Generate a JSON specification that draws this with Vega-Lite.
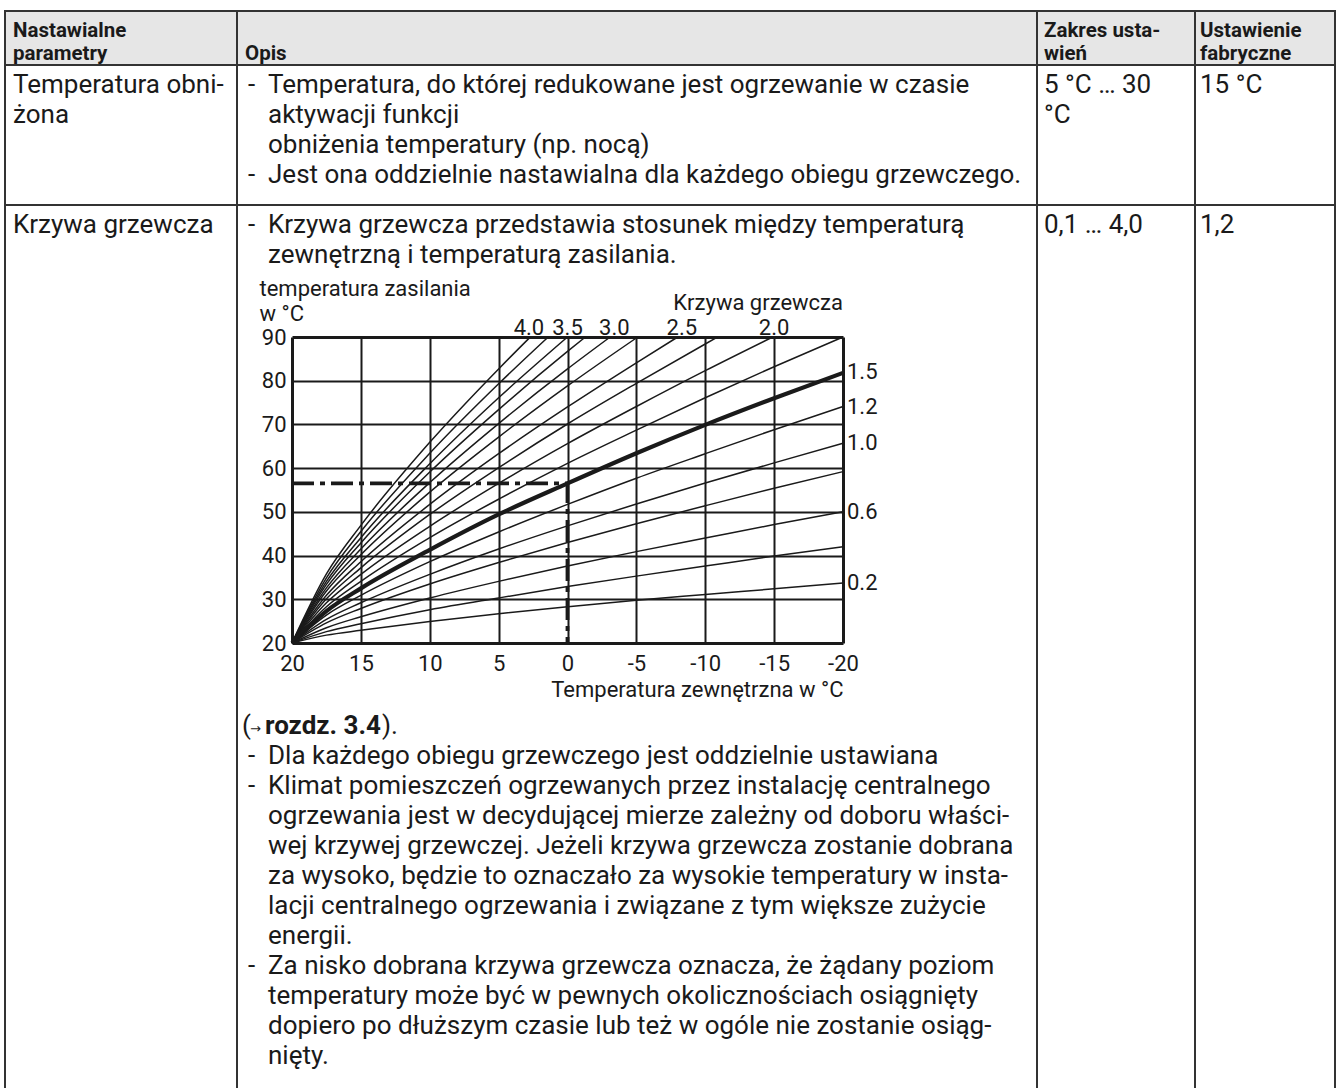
{
"$schema": "https://vega.github.io/schema/vega-lite/v6.json",
"background": "white",
"padding": {"left": 4, "top": 10, "right": 0, "bottom": 0},
"config": {
  "view": {"stroke": "#333333", "strokeWidth": 2},
  "text": {"font": "Roboto", "fontSize": 26, "color": "#1a1a1a", "align": "left", "baseline": "alphabetic"},
  "axis": {"labelFont": "Roboto", "titleFont": "Roboto"}
},
"columns": 4,
"spacing": 0,
"align": "each",
"bounds": "flush",
"concat": [
  {"width": 232, "height": 54, "view": {"stroke": "#333333", "strokeWidth": 2, "fill": "#e6e6e6"},
   "data": {"values": [{"line": 0, "level": 0, "text": "Nastawialne"}, {"line": 1, "level": 0, "text": "parametry"}]},
   "mark": {"type": "text", "fontSize": 20.5, "fontWeight": "bold"},
   "encoding": {
     "x": {"field": "level", "type": "quantitative", "scale": {"domain": [0, 1], "range": [8, 28], "zero": false, "nice": false}, "axis": null},
     "y": {"field": "line", "type": "quantitative", "scale": {"domain": [0, 1], "range": [26, 49], "zero": false, "nice": false}, "axis": null},
     "text": {"field": "text"}}},
  {"width": 800, "height": 54, "view": {"stroke": "#333333", "strokeWidth": 2, "fill": "#e6e6e6"},
   "data": {"values": [{"line": 1, "level": 0, "text": "Opis"}]},
   "mark": {"type": "text", "fontSize": 20.5, "fontWeight": "bold"},
   "encoding": {
     "x": {"field": "level", "type": "quantitative", "scale": {"domain": [0, 1], "range": [8, 28], "zero": false, "nice": false}, "axis": null},
     "y": {"field": "line", "type": "quantitative", "scale": {"domain": [0, 1], "range": [26, 49], "zero": false, "nice": false}, "axis": null},
     "text": {"field": "text"}}},
  {"width": 158, "height": 54, "view": {"stroke": "#333333", "strokeWidth": 2, "fill": "#e6e6e6"},
   "data": {"values": [{"line": 0, "level": 0, "text": "Zakres usta-"}, {"line": 1, "level": 0, "text": "wień"}]},
   "mark": {"type": "text", "fontSize": 20.5, "fontWeight": "bold"},
   "encoding": {
     "x": {"field": "level", "type": "quantitative", "scale": {"domain": [0, 1], "range": [7, 27], "zero": false, "nice": false}, "axis": null},
     "y": {"field": "line", "type": "quantitative", "scale": {"domain": [0, 1], "range": [26, 49], "zero": false, "nice": false}, "axis": null},
     "text": {"field": "text"}}},
  {"width": 140, "height": 54, "view": {"stroke": "#333333", "strokeWidth": 2, "fill": "#e6e6e6"},
   "data": {"values": [{"line": 0, "level": 0, "text": "Ustawienie"}, {"line": 1, "level": 0, "text": "fabryczne"}]},
   "mark": {"type": "text", "fontSize": 20.5, "fontWeight": "bold"},
   "encoding": {
     "x": {"field": "level", "type": "quantitative", "scale": {"domain": [0, 1], "range": [5, 25], "zero": false, "nice": false}, "axis": null},
     "y": {"field": "line", "type": "quantitative", "scale": {"domain": [0, 1], "range": [26, 49], "zero": false, "nice": false}, "axis": null},
     "text": {"field": "text"}}},

  {"width": 232, "height": 140,
   "data": {"values": [{"line": 0, "level": 0, "text": "Temperatura obni-"}, {"line": 1, "level": 0, "text": "żona"}]},
   "mark": {"type": "text"},
   "encoding": {
     "x": {"field": "level", "type": "quantitative", "scale": {"domain": [0, 1], "range": [8, 28], "zero": false, "nice": false}, "axis": null},
     "y": {"field": "line", "type": "quantitative", "scale": {"domain": [0, 1], "range": [28, 58], "zero": false, "nice": false}, "axis": null},
     "text": {"field": "text"}}},
  {"width": 800, "height": 140,
   "data": {"values": [
     {"line": 0, "level": 0, "text": "-"},
     {"line": 0, "level": 1, "text": "Temperatura, do której redukowane jest ogrzewanie w czasie"},
     {"line": 1, "level": 1, "text": "aktywacji funkcji"},
     {"line": 2, "level": 1, "text": "obniżenia temperatury (np. nocą)"},
     {"line": 3, "level": 0, "text": "-"},
     {"line": 3, "level": 1, "text": "Jest ona oddzielnie nastawialna dla każdego obiegu grzewczego."}]},
   "mark": {"type": "text"},
   "encoding": {
     "x": {"field": "level", "type": "quantitative", "scale": {"domain": [0, 1], "range": [11, 31], "zero": false, "nice": false}, "axis": null},
     "y": {"field": "line", "type": "quantitative", "scale": {"domain": [0, 1], "range": [28, 58], "zero": false, "nice": false}, "axis": null},
     "text": {"field": "text"}}},
  {"width": 158, "height": 140,
   "data": {"values": [{"line": 0, "level": 0, "text": "5 °C … 30"}, {"line": 1, "level": 0, "text": "°C"}]},
   "mark": {"type": "text"},
   "encoding": {
     "x": {"field": "level", "type": "quantitative", "scale": {"domain": [0, 1], "range": [7, 27], "zero": false, "nice": false}, "axis": null},
     "y": {"field": "line", "type": "quantitative", "scale": {"domain": [0, 1], "range": [28, 58], "zero": false, "nice": false}, "axis": null},
     "text": {"field": "text"}}},
  {"width": 140, "height": 140,
   "data": {"values": [{"line": 0, "level": 0, "text": "15 °C"}]},
   "mark": {"type": "text"},
   "encoding": {
     "x": {"field": "level", "type": "quantitative", "scale": {"domain": [0, 1], "range": [5, 25], "zero": false, "nice": false}, "axis": null},
     "y": {"field": "line", "type": "quantitative", "scale": {"domain": [0, 1], "range": [28, 58], "zero": false, "nice": false}, "axis": null},
     "text": {"field": "text"}}},

  {"width": 232, "height": 132, "view": {"stroke": null},
   "resolve": {"scale": {"x": "independent"}},
   "layer": [
     {"data": {"values": [{"e": 0}, {"e": 1}]}, "mark": {"type": "rule", "color": "#333333", "strokeWidth": 2},
      "encoding": {"x": {"field": "e", "type": "quantitative", "scale": {"domain": [0, 1], "zero": false, "nice": false}, "axis": null}}},
     {"data": {"values": [{"line": 0, "level": 0, "text": "Krzywa grzewcza"}]}, "mark": {"type": "text"},
      "encoding": {
        "x": {"field": "level", "type": "quantitative", "scale": {"domain": [0, 1], "range": [8, 28], "zero": false, "nice": false}, "axis": null},
        "y": {"field": "line", "type": "quantitative", "scale": {"domain": [0, 1], "range": [28, 58], "zero": false, "nice": false}, "axis": null},
        "text": {"field": "text"}}}]},
  {"width": 800, "height": 132, "view": {"stroke": null},
   "data": {"values": [
     {"line": 0, "level": 0, "text": "-"},
     {"line": 0, "level": 1, "text": "Krzywa grzewcza przedstawia stosunek między temperaturą"},
     {"line": 1, "level": 1, "text": "zewnętrzną i temperaturą zasilania."}]},
   "mark": {"type": "text"},
   "encoding": {
     "x": {"field": "level", "type": "quantitative", "scale": {"domain": [0, 1], "range": [11, 31], "zero": false, "nice": false}, "axis": null},
     "y": {"field": "line", "type": "quantitative", "scale": {"domain": [0, 1], "range": [28, 58], "zero": false, "nice": false}, "axis": null},
     "text": {"field": "text"}}},
  {"width": 158, "height": 132, "view": {"stroke": null},
   "resolve": {"scale": {"x": "independent"}},
   "layer": [
     {"data": {"values": [{"e": 0}, {"e": 1}]}, "mark": {"type": "rule", "color": "#333333", "strokeWidth": 2},
      "encoding": {"x": {"field": "e", "type": "quantitative", "scale": {"domain": [0, 1], "zero": false, "nice": false}, "axis": null}}},
     {"data": {"values": [{"line": 0, "level": 0, "text": "0,1 … 4,0"}]}, "mark": {"type": "text"},
      "encoding": {
        "x": {"field": "level", "type": "quantitative", "scale": {"domain": [0, 1], "range": [7, 27], "zero": false, "nice": false}, "axis": null},
        "y": {"field": "line", "type": "quantitative", "scale": {"domain": [0, 1], "range": [28, 58], "zero": false, "nice": false}, "axis": null},
        "text": {"field": "text"}}}]},
  {"width": 140, "height": 132, "view": {"stroke": null},
   "resolve": {"scale": {"x": "independent"}},
   "layer": [
     {"data": {"values": [{"e": 0}, {"e": 1}]}, "mark": {"type": "rule", "color": "#333333", "strokeWidth": 2},
      "encoding": {"x": {"field": "e", "type": "quantitative", "scale": {"domain": [0, 1], "zero": false, "nice": false}, "axis": null}}},
     {"data": {"values": [{"line": 0, "level": 0, "text": "1,2"}]}, "mark": {"type": "text"},
      "encoding": {
        "x": {"field": "level", "type": "quantitative", "scale": {"domain": [0, 1], "range": [5, 25], "zero": false, "nice": false}, "axis": null},
        "y": {"field": "line", "type": "quantitative", "scale": {"domain": [0, 1], "range": [28, 58], "zero": false, "nice": false}, "axis": null},
        "text": {"field": "text"}}}]},

  {"width": 232, "height": 306, "view": {"stroke": null},
   "data": {"values": [{"e": 0}, {"e": 1}]}, "mark": {"type": "rule", "color": "#333333", "strokeWidth": 2},
   "encoding": {"x": {"field": "e", "type": "quantitative", "scale": {"domain": [0, 1], "zero": false, "nice": false}, "axis": null}}},
  {"width": 800, "height": 306, "view": {"stroke": null},
   "encoding": {
     "x": {"field": "t", "type": "quantitative", "scale": {"domain": [20, -20], "range": [55, 606], "nice": false, "zero": false},
       "axis": {"values": [20, 15, 10, 5, 0, -5, -10, -15, -20], "labelExpr": "datum.value + ''",
         "grid": true, "gridColor": "#1a1a1a", "gridOpacity": 1,
         "gridWidth": {"condition": {"test": "datum.value === 20 || datum.value === -20", "value": 3}, "value": 2},
         "domain": false, "ticks": false,
         "labelFlush": false, "labelOverlap": false, "labelFontSize": 22, "labelColor": "#1a1a1a", "labelPadding": 10,
         "title": "Temperatura zewnętrzna w °C", "titleAnchor": "end", "titleFontSize": 22, "titleFontWeight": "normal", "titleColor": "#1a1a1a", "titlePadding": 5}},
     "y": {"field": "v", "type": "quantitative", "scale": {"domain": [20, 90], "nice": false, "zero": false},
       "axis": {"values": [20, 30, 40, 50, 60, 70, 80, 90],
         "grid": true, "gridColor": "#1a1a1a", "gridOpacity": 1,
         "gridWidth": {"condition": {"test": "datum.value === 20 || datum.value === 90", "value": 3}, "value": 2},
         "domain": false, "ticks": false, "offset": -55,
         "labelFlush": false, "labelOverlap": false, "labelFontSize": 22, "labelColor": "#1a1a1a", "labelPadding": 6,
         "title": ["temperatura zasilania", "w °C"], "titleAngle": 0, "titleAlign": "left", "titleBaseline": "alphabetic",
         "titleX": -33, "titleY": -42, "titleFontSize": 22, "titleFontWeight": "normal", "titleColor": "#1a1a1a", "titleLineHeight": 25}}
   },
   "layer": [
     {"data": {"values": [
       {"c":"4.0","t":20,"v":20},{"c":"4.0","t":17.5,"v":35.8},{"c":"4.0","t":15,"v":46.9},{"c":"4.0","t":10,"v":65.9},{"c":"4.0","t":5,"v":82.7},{"c":"4.0","t":2.7,"v":90},
       {"c":"3.75","t":20,"v":20},{"c":"3.75","t":17.5,"v":34.9},{"c":"3.75","t":15,"v":45.5},{"c":"3.75","t":10,"v":63.4},{"c":"3.75","t":5,"v":79.3},{"c":"3.75","t":1.4,"v":90},
       {"c":"3.5","t":20,"v":20},{"c":"3.5","t":17.5,"v":34.1},{"c":"3.5","t":15,"v":44.1},{"c":"3.5","t":10,"v":61.0},{"c":"3.5","t":5,"v":76.1},{"c":"3.5","t":0,"v":90},
       {"c":"3.25","t":20,"v":20},{"c":"3.25","t":17.5,"v":33.4},{"c":"3.25","t":15,"v":42.9},{"c":"3.25","t":10,"v":59.1},{"c":"3.25","t":5,"v":73.4},{"c":"3.25","t":0,"v":86.7},{"c":"3.25","t":-1.3,"v":90},
       {"c":"3.0","t":20,"v":20},{"c":"3.0","t":17.5,"v":32.6},{"c":"3.0","t":15,"v":41.5},{"c":"3.0","t":10,"v":56.7},{"c":"3.0","t":5,"v":70.2},{"c":"3.0","t":0,"v":82.7},{"c":"3.0","t":-3.1,"v":90},
       {"c":"2.75","t":20,"v":20},{"c":"2.75","t":17.5,"v":31.9},{"c":"2.75","t":15,"v":40.2},{"c":"2.75","t":10,"v":54.5},{"c":"2.75","t":5,"v":67.1},{"c":"2.75","t":0,"v":78.8},{"c":"2.75","t":-5.1,"v":90},
       {"c":"2.5","t":20,"v":20},{"c":"2.5","t":17.5,"v":30.9},{"c":"2.5","t":15,"v":38.6},{"c":"2.5","t":10,"v":51.7},{"c":"2.5","t":5,"v":63.3},{"c":"2.5","t":0,"v":74.0},{"c":"2.5","t":-5,"v":84.1},{"c":"2.5","t":-8.0,"v":90},
       {"c":"2.25","t":20,"v":20},{"c":"2.25","t":17.5,"v":30.1},{"c":"2.25","t":15,"v":37.2},{"c":"2.25","t":10,"v":49.4},{"c":"2.25","t":5,"v":60.1},{"c":"2.25","t":0,"v":70.1},{"c":"2.25","t":-5,"v":79.4},{"c":"2.25","t":-10,"v":88.4},{"c":"2.25","t":-10.9,"v":90},
       {"c":"2.0","t":20,"v":20},{"c":"2.0","t":17.5,"v":29.2},{"c":"2.0","t":15,"v":35.7},{"c":"2.0","t":10,"v":46.7},{"c":"2.0","t":5,"v":56.5},{"c":"2.0","t":0,"v":65.6},{"c":"2.0","t":-5,"v":74.1},{"c":"2.0","t":-10,"v":82.3},{"c":"2.0","t":-14.9,"v":90},
       {"c":"1.75","t":20,"v":20},{"c":"1.75","t":17.5,"v":28.3},{"c":"1.75","t":15,"v":34.1},{"c":"1.75","t":10,"v":44.1},{"c":"1.75","t":5,"v":52.9},{"c":"1.75","t":0,"v":61.1},{"c":"1.75","t":-5,"v":68.7},{"c":"1.75","t":-10,"v":76.1},{"c":"1.75","t":-15,"v":83.2},{"c":"1.75","t":-20,"v":90},
       {"c":"1.5","t":20,"v":20},{"c":"1.5","t":17.5,"v":27.3},{"c":"1.5","t":15,"v":32.5},{"c":"1.5","t":10,"v":41.3},{"c":"1.5","t":5,"v":49.4},{"c":"1.5","t":0,"v":56.5},{"c":"1.5","t":-5,"v":63.4},{"c":"1.5","t":-10,"v":69.9},{"c":"1.5","t":-15,"v":76.0},{"c":"1.5","t":-20,"v":81.8},
       {"c":"1.2","t":20,"v":20},{"c":"1.2","t":17.5,"v":26.4},{"c":"1.2","t":15,"v":30.9},{"c":"1.2","t":10,"v":38.6},{"c":"1.2","t":5,"v":45.4},{"c":"1.2","t":0,"v":51.7},{"c":"1.2","t":-5,"v":57.7},{"c":"1.2","t":-10,"v":63.3},{"c":"1.2","t":-15,"v":68.8},{"c":"1.2","t":-20,"v":74.1},
       {"c":"1.0","t":20,"v":20},{"c":"1.0","t":17.5,"v":25.4},{"c":"1.0","t":15,"v":29.2},{"c":"1.0","t":10,"v":35.7},{"c":"1.0","t":5,"v":41.5},{"c":"1.0","t":0,"v":46.8},{"c":"1.0","t":-5,"v":51.8},{"c":"1.0","t":-10,"v":56.6},{"c":"1.0","t":-15,"v":61.2},{"c":"1.0","t":-20,"v":65.7},
       {"c":"0.8","t":20,"v":20},{"c":"0.8","t":17.5,"v":24.6},{"c":"0.8","t":15,"v":27.9},{"c":"0.8","t":10,"v":33.5},{"c":"0.8","t":5,"v":38.4},{"c":"0.8","t":0,"v":43.0},{"c":"0.8","t":-5,"v":47.3},{"c":"0.8","t":-10,"v":51.4},{"c":"0.8","t":-15,"v":55.4},{"c":"0.8","t":-20,"v":59.2},
       {"c":"0.6","t":20,"v":20},{"c":"0.6","t":17.5,"v":23.5},{"c":"0.6","t":15,"v":26.0},{"c":"0.6","t":10,"v":30.3},{"c":"0.6","t":5,"v":34.1},{"c":"0.6","t":0,"v":37.6},{"c":"0.6","t":-5,"v":40.9},{"c":"0.6","t":-10,"v":44.0},{"c":"0.6","t":-15,"v":47.1},{"c":"0.6","t":-20,"v":50.0},
       {"c":"0.4","t":20,"v":20},{"c":"0.4","t":17.5,"v":22.6},{"c":"0.4","t":15,"v":24.4},{"c":"0.4","t":10,"v":27.6},{"c":"0.4","t":5,"v":30.3},{"c":"0.4","t":0,"v":32.9},{"c":"0.4","t":-5,"v":35.3},{"c":"0.4","t":-10,"v":37.6},{"c":"0.4","t":-15,"v":39.9},{"c":"0.4","t":-20,"v":42.0},
       {"c":"0.2","t":20,"v":20},{"c":"0.2","t":17.5,"v":21.8},{"c":"0.2","t":15,"v":22.9},{"c":"0.2","t":10,"v":24.9},{"c":"0.2","t":5,"v":26.7},{"c":"0.2","t":0,"v":28.3},{"c":"0.2","t":-5,"v":29.8},{"c":"0.2","t":-10,"v":31.1},{"c":"0.2","t":-15,"v":32.4},{"c":"0.2","t":-20,"v":33.7}
     ]},
      "mark": {"type": "line", "interpolate": "monotone", "color": "#1a1a1a"},
      "encoding": {
        "detail": {"field": "c"},
        "order": {"field": "t", "type": "quantitative", "sort": "descending"},
        "strokeWidth": {"condition": {"test": "datum.c === '1.5'", "value": 4.2}, "value": 1.5}}},
     {"data": {"values": [{"t": 20, "v": 56.5, "o": 0}, {"t": 0, "v": 56.5, "o": 1}, {"t": 0, "v": 20, "o": 2}]},
      "mark": {"type": "line", "color": "#1a1a1a", "strokeWidth": 3.8, "strokeDash": [22, 6, 5, 6]},
      "encoding": {"order": {"field": "o", "type": "quantitative"}}},
     {"data": {"values": [{"lab": "4.0", "t": 2.8, "v": 90}, {"lab": "3.5", "t": 0, "v": 90}, {"lab": "3.0", "t": -3.4, "v": 90}, {"lab": "2.5", "t": -8.3, "v": 90}, {"lab": "2.0", "t": -15, "v": 90}]},
      "mark": {"type": "text", "align": "center", "baseline": "alphabetic", "dy": -2, "fontSize": 22},
      "encoding": {"text": {"field": "lab"}}},
     {"data": {"values": [{"lab": "1.5", "t": -20, "v": 82}, {"lab": "1.2", "t": -20, "v": 74.1}, {"lab": "1.0", "t": -20, "v": 65.7}, {"lab": "0.6", "t": -20, "v": 50}, {"lab": "0.2", "t": -20, "v": 33.7}]},
      "mark": {"type": "text", "align": "left", "baseline": "middle", "dx": 4, "fontSize": 22},
      "encoding": {"text": {"field": "lab"}}},
     {"data": {"values": [{"lab": "Krzywa grzewcza", "t": -20, "v": 90}]},
      "mark": {"type": "text", "align": "right", "baseline": "alphabetic", "dy": -27, "fontSize": 22},
      "encoding": {"text": {"field": "lab"}}}
   ]},
  {"width": 158, "height": 306, "view": {"stroke": null},
   "data": {"values": [{"e": 0}, {"e": 1}]}, "mark": {"type": "rule", "color": "#333333", "strokeWidth": 2},
   "encoding": {"x": {"field": "e", "type": "quantitative", "scale": {"domain": [0, 1], "zero": false, "nice": false}, "axis": null}}},
  {"width": 140, "height": 306, "view": {"stroke": null},
   "data": {"values": [{"e": 0}, {"e": 1}]}, "mark": {"type": "rule", "color": "#333333", "strokeWidth": 2},
   "encoding": {"x": {"field": "e", "type": "quantitative", "scale": {"domain": [0, 1], "zero": false, "nice": false}, "axis": null}}},

  {"width": 232, "height": 447, "view": {"stroke": null},
   "data": {"values": [{"e": 0}, {"e": 1}]}, "mark": {"type": "rule", "color": "#333333", "strokeWidth": 2},
   "encoding": {"x": {"field": "e", "type": "quantitative", "scale": {"domain": [0, 1], "zero": false, "nice": false}, "axis": null}}},
  {"width": 800, "height": 447, "view": {"stroke": null},
   "encoding": {
     "x": {"field": "level", "type": "quantitative", "scale": {"domain": [0, 1], "range": [11, 31], "zero": false, "nice": false}, "axis": null},
     "y": {"field": "line", "type": "quantitative", "scale": {"domain": [0, 1], "range": [91, 121], "zero": false, "nice": false}, "axis": null}},
   "layer": [
     {"data": {"values": [
       {"line": 1, "level": 0, "text": "-"},
       {"line": 1, "level": 1, "text": "Dla każdego obiegu grzewczego jest oddzielnie ustawiana"},
       {"line": 2, "level": 0, "text": "-"},
       {"line": 2, "level": 1, "text": "Klimat pomieszczeń ogrzewanych przez instalację centralnego"},
       {"line": 3, "level": 1, "text": "ogrzewania jest w decydującej mierze zależny od doboru właści-"},
       {"line": 4, "level": 1, "text": "wej krzywej grzewczej. Jeżeli krzywa grzewcza zostanie dobrana"},
       {"line": 5, "level": 1, "text": "za wysoko, będzie to oznaczało za wysokie temperatury w insta-"},
       {"line": 6, "level": 1, "text": "lacji centralnego ogrzewania i związane z tym większe zużycie"},
       {"line": 7, "level": 1, "text": "energii."},
       {"line": 8, "level": 0, "text": "-"},
       {"line": 8, "level": 1, "text": "Za nisko dobrana krzywa grzewcza oznacza, że żądany poziom"},
       {"line": 9, "level": 1, "text": "temperatury może być w pewnych okolicznościach osiągnięty"},
       {"line": 10, "level": 1, "text": "dopiero po dłuższym czasie lub też w ogóle nie zostanie osiąg-"},
       {"line": 11, "level": 1, "text": "nięty."}]},
      "mark": {"type": "text"},
      "encoding": {"text": {"field": "text"}}},
     {"data": {"values": [{"line": 0, "level": 0, "text": "("}]},
      "mark": {"type": "text", "dx": -6}, "encoding": {"text": {"field": "text"}}},
     {"data": {"values": [{"line": 0, "level": 0, "text": "→"}]},
      "mark": {"type": "text", "dx": 2, "dy": -1, "font": "DejaVu Sans", "fontSize": 13}, "encoding": {"text": {"field": "text"}}},
     {"data": {"values": [{"line": 0, "level": 0, "text": "rozdz. 3.4"}]},
      "mark": {"type": "text", "dx": 17, "fontWeight": "bold"}, "encoding": {"text": {"field": "text"}}},
     {"data": {"values": [{"line": 0, "level": 0, "text": ")."}]},
      "mark": {"type": "text", "dx": 134}, "encoding": {"text": {"field": "text"}}}
   ]},
  {"width": 158, "height": 447, "view": {"stroke": null},
   "data": {"values": [{"e": 0}, {"e": 1}]}, "mark": {"type": "rule", "color": "#333333", "strokeWidth": 2},
   "encoding": {"x": {"field": "e", "type": "quantitative", "scale": {"domain": [0, 1], "zero": false, "nice": false}, "axis": null}}},
  {"width": 140, "height": 447, "view": {"stroke": null},
   "data": {"values": [{"e": 0}, {"e": 1}]}, "mark": {"type": "rule", "color": "#333333", "strokeWidth": 2},
   "encoding": {"x": {"field": "e", "type": "quantitative", "scale": {"domain": [0, 1], "zero": false, "nice": false}, "axis": null}}}
]
}
